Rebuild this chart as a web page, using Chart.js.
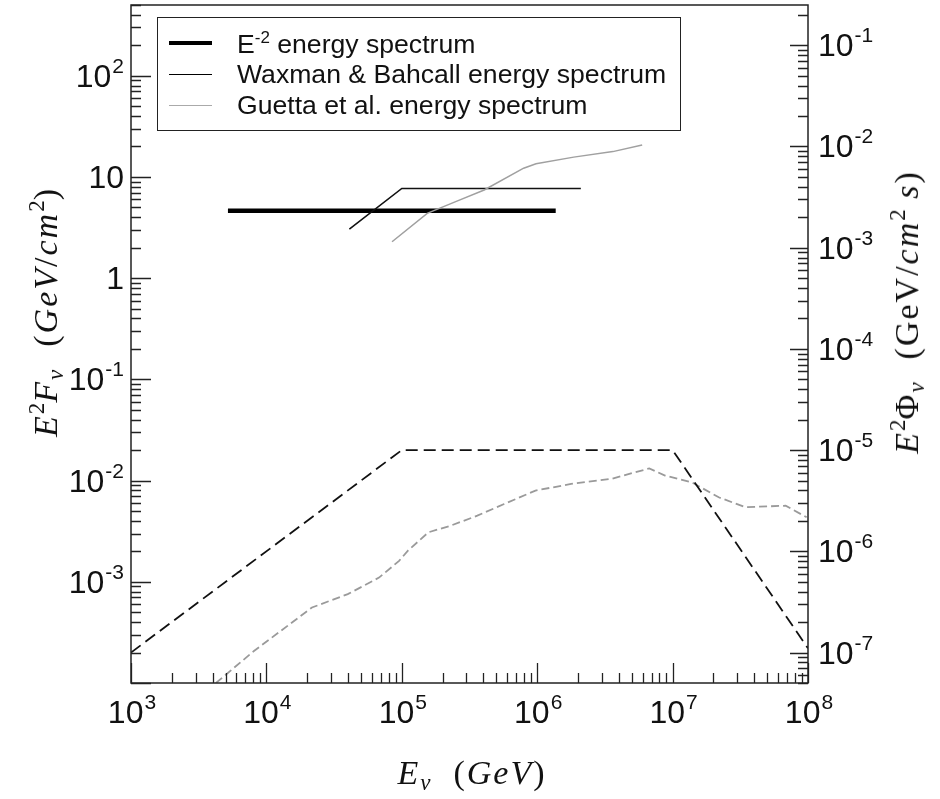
<!DOCTYPE html>
<html>
<head>
<meta charset="utf-8">
<script src="https://cdn.jsdelivr.net/npm/chart.js@4.4.1/dist/chart.umd.min.js"></script>
<style>
    body { margin: 0; background: #fff; }
    #wrap { position: relative; width: 940px; height: 799px; }
    .axis-title {
        position: absolute;
        font-family: 'Liberation Serif', 'Times New Roman', serif;
        font-size: 34px;
        letter-spacing: 2px;
        color: #111;
        white-space: nowrap;
        transform: translate(-50%, -50%);
        line-height: 1;
    }
    .axis-title.vert { transform: translate(-50%, -50%) rotate(-90deg); }
    .axis-title sup { font-size: 23px; vertical-align: 13px; font-style: normal; letter-spacing: 0; }
    .axis-title sub { font-size: 23px; vertical-align: -6px; }
    #legend {
        position: absolute;
        left: 157px; top: 17px; width: 522px; height: 112px;
        border: 1px solid #222;
        font-family: 'Liberation Sans', Arial, sans-serif;
        font-size: 26.6px;
        color: #111;
    }
    .row { position: absolute; left: 0; height: 30px; width: 100%; }
    .row .swatch { position: absolute; left: 11px; width: 43px; top: 50%; }
    .row .label { position: absolute; left: 79px; top: 50%; transform: translateY(-50%); line-height: 1; white-space: nowrap; }
    .row sup { font-size: 17px; vertical-align: 10px; }
</style>
</head>
<body>
<div id="wrap">
    <canvas id="spectrumChart"></canvas>
    <div id="legend">
        <div class="row" style="top:10px"><div class="swatch" style="border-top:4px solid #000; margin-top:-2px"></div><div class="label">E<sup>-2</sup> energy spectrum</div></div>
        <div class="row" style="top:41px"><div class="swatch" style="border-top:1.5px solid #000"></div><div class="label">Waxman &amp; Bahcall energy spectrum</div></div>
        <div class="row" style="top:72px"><div class="swatch" style="border-top:1.5px solid #aaa"></div><div class="label">Guetta et al. energy spectrum</div></div>
    </div>
    <div class="axis-title vert" style="left:46px; top:312px"><i>E</i><sup>2</sup><i>F</i><sub><i>ν</i></sub>&nbsp;&nbsp;(<i>GeV</i>/<i>cm</i><sup>2</sup>)</div>
    <div class="axis-title vert" style="left:907px; top:312px"><i>E</i><sup>2</sup>Φ<sub><i>ν</i></sub>&nbsp;&nbsp;(GeV/<i>cm</i><sup>2</sup>&nbsp;<i>s</i>)</div>
    <div class="axis-title" style="left:472px; top:775px"><i>E</i><sub><i>ν</i></sub>&nbsp;&nbsp;(<i>GeV</i>)</div>
</div>
<script>
// axis ranges (GeV on x, GeV/cm^2 on left y)
const X_MIN = 1e3;
const X_MAX = 1e8;
const Y_MIN = 1e-4;
const Y_MAX = 500;
// right axis E^2 Phi = E^2 F / FLUX_RATIO
const FLUX_RATIO = 2000;

// E^-2 spectrum (thick)
const E2_ENERGY = [5.2e3, 1.37e6];
const E2_FLUX = [4.63, 4.63];

// Waxman & Bahcall spectrum (thin black)
const WB_ENERGY = [4.1e4, 1.0e5, 2.1e6];
const WB_FLUX = [3.05, 7.7, 7.7];

// Guetta et al. spectrum (thin gray)
const GUETTA_ENERGY = [8.47e4, 1.54e5, 2.5e5, 4.06e5, 7.94e5, 9.8e5, 1.86e6, 3.62e6, 5.96e6];
const GUETTA_FLUX = [2.29, 4.37, 5.7, 7.43, 12.2, 13.5, 15.7, 17.8, 20.7];

// Waxman & Bahcall flux (dashed black)
const WB_PHI_ENERGY = [1e3, 1e5, 1e7, 1e8];
const WB_PHI_FLUX = [2.0e-4, 0.02, 0.02, 2.2e-4];

// Guetta et al. flux (dashed gray)
const GUETTA_PHI_ENERGY = [4.24e3, 8.09e3, 2.17e4, 3.99e4, 6.79e4, 9.55e4, 1.11e5, 1.57e5, 2.29e5, 3.61e5,
    5.7e5, 9.7e5, 1.78e6, 3.53e6, 6.73e6, 8.79e6, 1.39e7, 2.19e7, 3.45e7, 6.84e7, 9.77e7];
const GUETTA_PHI_FLUX = [1.0e-4, 2.07e-4, 5.57e-4, 7.55e-4, 1.1e-3, 1.61e-3, 2.03e-3, 3.08e-3, 3.58e-3, 4.5e-3,
    5.87e-3, 7.96e-3, 9.27e-3, 1.04e-2, 1.32e-2, 1.12e-2, 9.6e-3, 6.84e-3, 5.45e-3, 5.65e-3, 4.34e-3];

const LABEL_FONT = '"Liberation Sans", Arial, sans-serif';

function toPoints(xs, ys) {
    return xs.map((x, i) => ({ x: x, y: ys[i] }));
}

function lineSet(xs, ys, color, width, dash) {
    return {
        data: toPoints(xs, ys),
        borderColor: color,
        borderWidth: width,
        borderDash: dash || [],
        pointRadius: 0,
        tension: 0,
        fill: false,
        yAxisID: 'y'
    };
}

function logTicks(min, max) {
    const out = [];
    for (let e = Math.floor(Math.log10(min)); e <= Math.ceil(Math.log10(max)); e++) {
        for (let m = 1; m < 10; m++) {
            const v = m * Math.pow(10, e);
            if (v >= min * 0.999 && v <= max * 1.001) out.push({ v: v, major: m === 1, exp: e });
        }
    }
    return out;
}

// draws "10" with a raised exponent, or plain "1"/"10" when asked
function drawPower(ctx, exp, x, base, align, plain) {
    let main = '10', sup = String(exp);
    if (plain && exp === 0) { main = '1'; sup = ''; }
    if (plain && exp === 1) { sup = ''; }
    ctx.font = '32px ' + LABEL_FONT;
    const wMain = ctx.measureText(main).width;
    ctx.font = '21px ' + LABEL_FONT;
    const wSup = sup ? ctx.measureText(sup).width + 1 : 0;
    const total = wMain + wSup;
    let start = x;
    if (align === 'right') start = x - total;
    if (align === 'center') start = x - total / 2;
    ctx.textAlign = 'left';
    ctx.textBaseline = 'alphabetic';
    ctx.font = '32px ' + LABEL_FONT;
    ctx.fillText(main, start, base);
    if (sup) {
        ctx.font = '21px ' + LABEL_FONT;
        ctx.fillText(sup, start + wMain + 1, base - 14);
    }
}

// frame, inward tick marks and power-of-ten labels
const frameAxes = {
    id: 'frameAxes',
    afterDraw(chart) {
        const { ctx, chartArea: a, scales } = chart;
        ctx.save();
        ctx.strokeStyle = '#222';
        ctx.fillStyle = '#111';
        ctx.lineWidth = 1.3;

        ctx.beginPath();
        logTicks(X_MIN, X_MAX).forEach(t => {
            const px = Math.round(scales.x.getPixelForValue(t.v)) + 0.5;
            ctx.moveTo(px, a.bottom);
            ctx.lineTo(px, a.bottom - (t.major ? 20 : 10));
        });
        logTicks(Y_MIN, Y_MAX).forEach(t => {
            const py = Math.round(scales.y.getPixelForValue(t.v)) + 0.5;
            ctx.moveTo(a.left, py);
            ctx.lineTo(a.left + (t.major ? 20 : 10), py);
        });
        logTicks(Y_MIN / FLUX_RATIO, Y_MAX / FLUX_RATIO).forEach(t => {
            const py = Math.round(scales.y2.getPixelForValue(t.v)) + 0.5;
            ctx.moveTo(a.right, py);
            ctx.lineTo(a.right - (t.major ? 18 : 10), py);
        });
        ctx.stroke();

        ctx.lineWidth = 1.5;
        ctx.strokeRect(a.left, a.top, a.width, a.height);

        logTicks(X_MIN, X_MAX).filter(t => t.major).forEach(t => {
            drawPower(ctx, t.exp, scales.x.getPixelForValue(t.v) + 1, a.bottom + 40, 'center', false);
        });
        logTicks(Y_MIN, Y_MAX).filter(t => t.major && t.exp > -4).forEach(t => {
            drawPower(ctx, t.exp, a.left - 7, scales.y.getPixelForValue(t.v) + 11, 'right', true);
        });
        logTicks(Y_MIN / FLUX_RATIO, Y_MAX / FLUX_RATIO).filter(t => t.major).forEach(t => {
            drawPower(ctx, t.exp, a.right + 10, scales.y2.getPixelForValue(t.v) + 11, 'left', false);
        });
        ctx.restore();
    }
};

document.addEventListener('DOMContentLoaded', () => {
    const ctx = document.getElementById('spectrumChart').getContext('2d');
    new Chart(ctx, {
        type: 'line',
        data: {
            datasets: [
                lineSet(WB_PHI_ENERGY, WB_PHI_FLUX, '#111', 1.8, [12, 6]),
                lineSet(GUETTA_PHI_ENERGY, GUETTA_PHI_FLUX, '#9a9a9a', 1.8, [8, 4]),
                lineSet(GUETTA_ENERGY, GUETTA_FLUX, '#a0a0a0', 1.5),
                lineSet(WB_ENERGY, WB_FLUX, '#111', 1.6),
                lineSet(E2_ENERGY, E2_FLUX, '#000', 4.5)
            ]
        },
        options: {
            responsive: true,
            maintainAspectRatio: false,
            animation: false,
            devicePixelRatio: 1,
            layout: { padding: { left: 131, right: 132, top: 5, bottom: 116 } },
            plugins: { legend: { display: false }, tooltip: { enabled: false } },
            scales: {
                x: { type: 'logarithmic', min: X_MIN, max: X_MAX, display: false },
                y: { type: 'logarithmic', min: Y_MIN, max: Y_MAX, display: false },
                y2: { type: 'logarithmic', position: 'right', min: Y_MIN / FLUX_RATIO, max: Y_MAX / FLUX_RATIO, display: false }
            }
        },
        plugins: [frameAxes]
    });
});
</script>
</body>
</html>
